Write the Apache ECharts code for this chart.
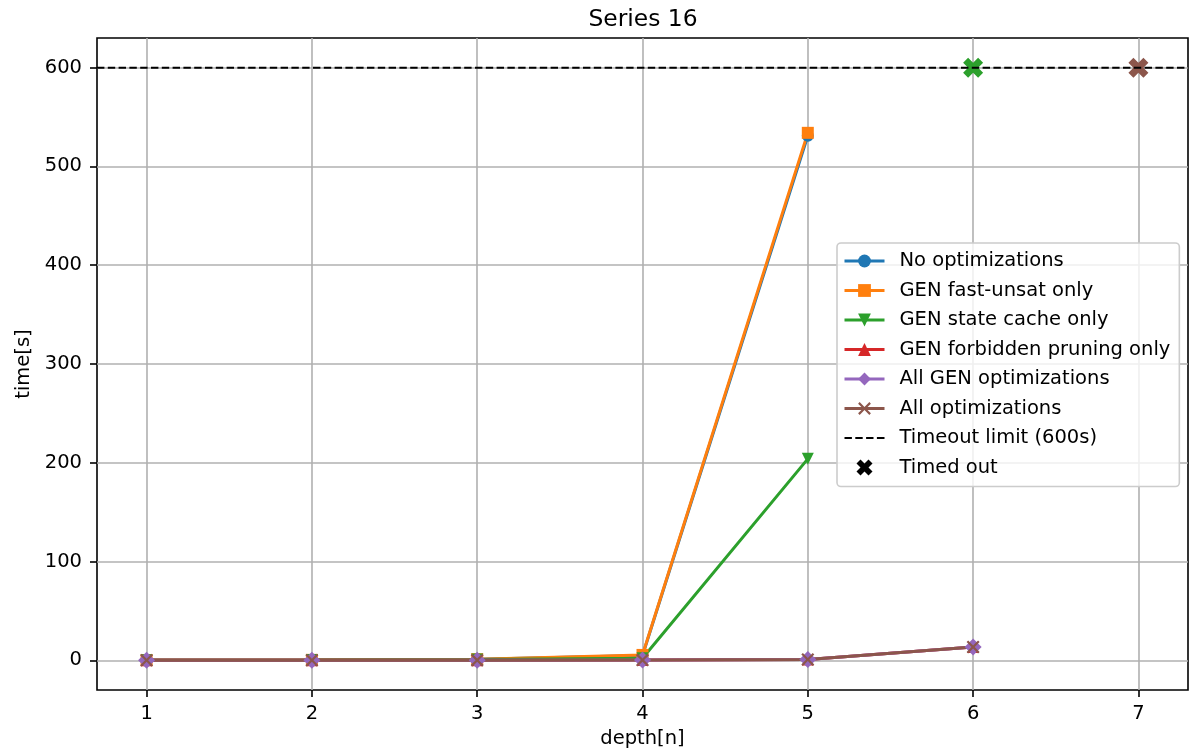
<!DOCTYPE html>
<html>
<head>
<meta charset="utf-8">
<script src="https://cdn.jsdelivr.net/npm/echarts@6/dist/echarts.min.js"></script>
<style>
  html, body { margin: 0; padding: 0; background: #fff; }
  #chart { width: 1194px; height: 748px; }
</style>
</head>
<body>
<div id="chart"></div>
<script>
// values
const depths = [1, 2, 3, 4, 5, 6, 7]
const xTicks = [1, 2, 3, 4, 5, 6, 7]
const yTicks = [0, 100, 200, 300, 400, 500, 600]

const noOptimizations = [0.3, 0.5, 1.2, 5, 531]
const fastUnsatOnly = [0.3, 0.5, 1.2, 5.5, 534]
const stateCacheOnly = [0.2, 0.4, 0.9, 2.2, 204]
const forbiddenPruningOnly = [0.1, 0.1, 0.2, 0.3, 0.9, 13.5]
const allGenOptimizations = [0.1, 0.1, 0.2, 0.3, 0.9, 13.5]
const allOptimizations = [0.1, 0.1, 0.2, 0.3, 0.9, 13.5]

const timeoutLimit = 600
const timedOutDepths = [6, 7]
const timedOutOwners = ['GEN state cache only', 'All optimizations']

const FONT = 'DejaVu Sans'
const FS = 19.5
const colors = {
    'No optimizations': '#1f77b4',
    'GEN fast-unsat only': '#ff7f0e',
    'GEN state cache only': '#2ca02c',
    'GEN forbidden pruning only': '#d62728',
    'All GEN optimizations': '#9467bd',
    'All optimizations': '#8c564b'
}

const xFilled = 'path://M-5,-10 L0,-5 L5,-10 L10,-5 L5,0 L10,5 L5,10 L0,5 L-5,10 L-10,5 L-5,0 L-10,-5 Z'
const xThin = 'path://M-7.6,-10 L0,-2.4 L7.6,-10 L10,-7.6 L2.4,0 L10,7.6 L7.6,10 L0,2.4 L-7.6,10 L-10,7.6 L-2.4,0 L-10,-7.6 Z'
const triDown = 'path://M0,0 L20,0 L10,20 Z'
const dashIcon = 'path://M0,0 h7.4 v2 h-7.4 Z M10.8,0 h7.4 v2 h-7.4 Z M21.6,0 h7.4 v2 h-7.4 Z M32.4,0 h7.6 v2 h-7.6 Z'

let pairs = (vals) => vals.map((v, i) => [depths[i], v])

let lineSeries = (name, vals, symbol, size) => ({
    name,
    type: 'line',
    data: pairs(vals),
    symbol,
    symbolSize: size,
    showAllSymbol: true,
    color: colors[name],
    lineStyle: { width: 3, color: colors[name] },
    itemStyle: { color: colors[name], opacity: 1 },
    emphasis: { disabled: true }
})

let series = [
    lineSeries('No optimizations', noOptimizations, 'circle', 12),
    lineSeries('GEN fast-unsat only', fastUnsatOnly, 'rect', 12),
    lineSeries('GEN state cache only', stateCacheOnly, triDown, 12),
    lineSeries('GEN forbidden pruning only', forbiddenPruningOnly, 'triangle', 12),
    lineSeries('All GEN optimizations', allGenOptimizations, 'diamond', 17),
    lineSeries('All optimizations', allOptimizations, xThin, 13),
    {
        name: 'Timeout limit (600s)',
        type: 'line',
        data: [[0.7, timeoutLimit], [7.3, timeoutLimit]],
        symbol: 'none',
        color: '#000',
        lineStyle: { color: '#000', width: 2, type: [7.4, 3.4] },
        emphasis: { disabled: true }
    },
    {
        name: 'Timed out',
        type: 'scatter',
        symbol: xFilled,
        symbolSize: 20,
        color: '#000',
        itemStyle: { opacity: 1 },
        data: timedOutDepths.map((d, i) => ({
            value: [d, timeoutLimit],
            itemStyle: { color: colors[timedOutOwners[i]], opacity: 1 }
        })),
        emphasis: { disabled: true }
    }
]

let legendNames = series.map(s => s.name)

let chart = echarts.init(document.getElementById('chart'), null, { renderer: 'canvas' })

chart.setOption({
    animation: false,
    backgroundColor: '#fff',
    textStyle: { fontFamily: FONT },
    title: {
        text: 'Series 16',
        left: 638,
        textAlign: 'center',
        top: 3,
        textStyle: { fontFamily: FONT, fontSize: 23.4, fontWeight: 'normal', color: '#000' }
    },
    grid: {
        left: 97, right: 6, top: 38, bottom: 58,
        show: true,
        borderColor: '#000',
        borderWidth: 1.6,
        containLabel: false,
        outerBoundsMode: 'none'
    },
    legend: {
        orient: 'vertical',
        left: 837,
        top: 243,
        itemWidth: 40,
        itemHeight: 16,
        itemGap: 9.5,
        padding: [8, 9, 9, 6],
        backgroundColor: 'rgba(255,255,255,0.8)',
        borderColor: '#cccccc',
        borderWidth: 1.6,
        borderRadius: 4,
        selectedMode: false,
        lineStyle: { width: 3 },
        textStyle: { fontFamily: FONT, fontSize: FS, color: '#000', lineHeight: 20, padding: [0, 0, 0, 10] },
        data: legendNames.map(name => {
            if (name === 'Timeout limit (600s)') return { name, icon: dashIcon, itemStyle: { color: '#000', opacity: 1 } }
            if (name === 'Timed out') return { name, icon: xFilled, itemStyle: { color: '#000', opacity: 1 } }
            return { name }
        })
    },
    xAxis: {
        type: 'value',
        min: 0.7,
        max: 7.3,
        name: 'depth[n]',
        nameLocation: 'middle',
        nameGap: 36,
        nameTextStyle: { fontFamily: FONT, fontSize: FS, color: '#000' },
        axisLine: { show: false, onZero: false },
        axisTick: { show: true, length: 7, inside: false, customValues: xTicks, lineStyle: { color: '#000', width: 1.6 } },
        axisLabel: { customValues: xTicks, margin: 14, fontFamily: FONT, fontSize: FS, color: '#000' },
        splitLine: { show: true, lineStyle: { color: '#b0b0b0', width: 1.6 } }
    },
    yAxis: {
        type: 'value',
        min: -30,
        max: 630,
        name: 'time[s]',
        nameLocation: 'middle',
        nameGap: 54,
        nameTextStyle: { fontFamily: FONT, fontSize: FS, color: '#000' },
        axisLine: { show: false, onZero: false },
        axisTick: { show: true, length: 7, inside: false, customValues: yTicks, lineStyle: { color: '#000', width: 1.6 } },
        axisLabel: { customValues: yTicks, margin: 15, fontFamily: FONT, fontSize: FS, color: '#000' },
        splitLine: { show: true, lineStyle: { color: '#b0b0b0', width: 1.6 } }
    },
    series
})
</script>
</body>
</html>
